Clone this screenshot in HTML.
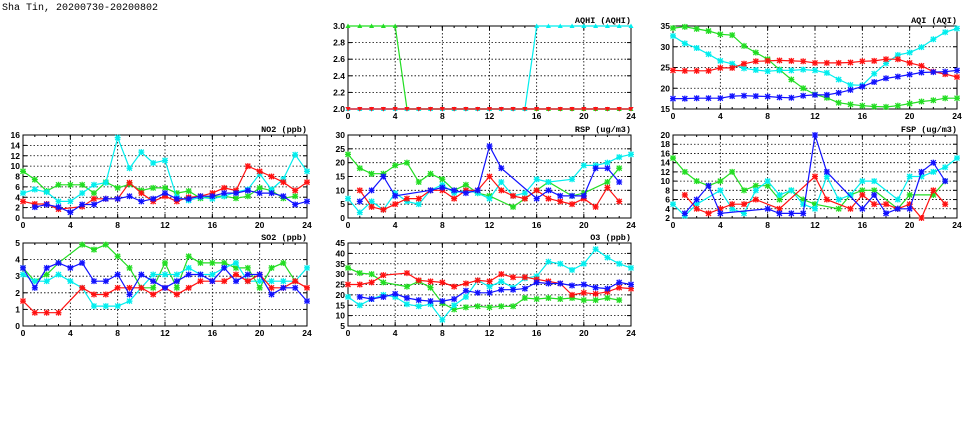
<!DOCTYPE html>
<html><head><meta charset="utf-8"><style>
body{margin:0;background:#fff;width:975px;height:447px;overflow:hidden}
svg{display:block}
text{font-family:"Liberation Sans",sans-serif}
</style></head><body>
<svg id="c" width="975" height="447" xmlns="http://www.w3.org/2000/svg">
<text x="2" y="10" font-size="10" style="font-family:'Liberation Mono',monospace">Sha Tin, 20200730-20200802</text>
</svg>
<script>
const N=null;
const hours=[0,1,2,3,4,5,6,7,8,9,10,11,12,13,14,15,16,17,18,19,20,21,22,23,24];
const xTicks=[0,4,8,12,16,20,24];
const colors=["#22dd22","#00eeee","#ff1111","#1111ff"];
// AQHI
const aqhiG=[3,3,3,3,3,2,2,2,2,2,2,2,2,2,2,2,2,2,2,2,2,2,2,2,2];
const aqhiC=[2,2,2,2,2,2,2,2,2,2,2,2,2,2,2,2,3,3,3,3,3,3,3,3,3];
const aqhiR=[2,2,2,2,2,2,2,2,2,2,2,2,2,2,2,2,2,2,2,2,2,2,2,2,2];
const aqhiB=[2,2,2,2,2,2,2,2,2,2,2,2,2,2,2,2,2,2,2,2,2,2,2,2,2];
const aqhiTicks=[2.0,2.2,2.4,2.6,2.8,3.0];
// AQI
const aqiG=[34.5,34.8,34.3,33.8,33,32.8,30.2,28.6,27,24.5,22.1,20,18.5,17.7,16.5,16.1,15.8,15.6,15.5,15.8,16.3,16.8,17.1,17.6,17.6];
const aqiC=[32.6,30.8,29.7,28.2,26.6,25.9,24.8,24.4,24.1,24.3,24.3,24.5,24.3,23.7,22.1,20.8,20.7,23.5,26,28,28.6,29.9,31.8,33.5,34.4];
const aqiR=[24.3,24.2,24.2,24.2,24.9,24.9,25.9,26.5,26.6,26.7,26.6,26.5,26.1,26.1,26.1,26.2,26.5,26.6,27,27,26.1,25.4,24,23.4,22.7];
const aqiB=[17.5,17.5,17.6,17.6,17.6,18.1,18.2,18.1,18,17.8,17.7,18.2,18.4,18.4,18.9,19.6,20.4,21.5,22.4,22.8,23.3,23.8,23.9,24,24.3];
const aqiTicks=[15,20,25,30,35];
// NO2
const no2G=[9,7.4,5.2,6.4,6.4,6.4,4.8,6.9,5.8,6.5,5.3,5.8,5.8,4.8,5.2,3.8,4.2,4.2,3.8,4.2,5.8,5.3,3.8,4.2,N];
const no2C=[4.8,5.5,5,3.2,3.2,4.8,6.4,6.8,15.5,9.6,12.7,10.6,11.1,4,3.4,4,3.7,4.2,5,5.5,8.5,5.5,7.5,12.2,9];
const no2R=[3.2,2.7,2.7,1.7,N,2.2,3.7,3.7,3.7,6.8,4.8,3.2,4.2,3.2,4,4.2,4.8,5.8,5.3,10,9,8,6.9,5.3,6.9];
const no2B=[N,2.1,2.6,2.1,1.1,2.6,2.6,3.7,3.7,4.2,3.2,3.7,4.8,3.7,3.7,4.2,4.2,4.8,4.8,5.3,4.8,4.8,4.2,2.6,3.2];
const no2Ticks=[0,2,4,6,8,10,12,14,16];
// RSP
const rspG=[23,18,16,16,19,20,13,16,14,10,12,9,8,N,4,7,10,13,N,8,9,N,13,18,N];
const rspC=[7,2,6,3,9,6,5,10,12,9,10,9,7,13,8,9,14,13,N,14,19,19,20,22,23];
const rspR=[N,10,4,3,5,7,7,10,10,7,10,10,15,10,8,7,10,7,6,5,7,4,11,6,N];
const rspB=[N,6,10,15,8,N,N,10,11,10,9,10,26,18,N,N,7,10,8,8,8,18,18,13,N];
const rspTicks=[0,5,10,15,20,25,30];
// FSP
const fspG=[15,12,10,9,10,12,8,9,9,6,8,6,5,N,4,7,8,8,N,4,7,N,7,10,N];
const fspC=[5,2.5,5,N,8,4,3,8,10,7,8,5,4,11,6,7,10,10,N,6,11,11,12,13,15];
const fspR=[N,7,4,3,4,5,5,6,N,4,N,N,11,6,N,4,7,5,5,4,5,2,8,5,N];
const fspB=[N,3,6,9,3,N,N,N,4,3,3,3,20,12,N,N,4,7,3,4,4,12,14,10,N];
const fspTicks=[2,4,6,8,10,12,14,16,18,20];
// SO2
const so2G=[3.5,2.7,3.1,3.8,N,4.9,4.6,4.9,4.2,3.5,2.3,2.3,3.8,2.3,4.2,3.8,3.8,3.8,3.5,3.5,2.3,3.5,3.8,2.7,N];
const so2C=[3.1,2.7,2.7,3.1,2.7,2.3,1.2,1.2,1.2,1.5,2.3,3.1,3.1,3.1,3.5,3.1,3.1,3.5,3.8,2.7,2.7,2.7,2.7,2.7,3.5];
const so2R=[1.5,0.8,0.8,0.8,N,2.3,1.9,1.9,2.3,2.3,2.3,1.9,2.3,1.9,2.3,2.7,2.7,2.7,3.1,2.7,3.1,2.3,2.3,2.7,2.3];
const so2B=[3.5,2.3,3.5,3.8,3.5,3.8,2.7,2.7,3.1,1.9,3.1,2.7,2.3,2.7,3.1,3.1,2.7,3.5,2.7,3.1,3.1,1.9,2.3,2.3,1.5];
const so2Ticks=[0,1,2,3,4,5];
// O3
const o3G=[33,30.5,30,26,N,24,26.5,23.5,16,13,14,14.5,14,14.5,14.5,18.5,18,18.5,18,18.5,17.5,17.5,18.5,17.5,N];
const o3C=[19,15,18,20,19,15.5,14.5,15.5,8,15,19,27,24,26.5,23.5,28,29,36,35,32,35,42,38,35,33];
const o3R=[25,25,26,29.5,N,30.5,27,26.5,26,24,25.5,27,26.5,30,28.5,28.5,27.5,26.5,25.5,20,21,20.5,21.5,23.5,23];
const o3B=[N,19,18,19,20.5,18.5,17.5,17,17,18,22,21,21,22.5,22.5,23,26,25.5,25.5,24.5,25,23.5,23,26,25];
const o3Ticks=[5,10,15,20,25,30,35,40,45];

const svg=document.getElementById('c');
const NS="http://www.w3.org/2000/svg";
function mk(tag,attrs,parent){const e=document.createElementNS(NS,tag);for(const k in attrs)e.setAttribute(k,attrs[k]);(parent||svg).appendChild(e);return e;}

function panel(name,title,x0,y0,x1,y1,ticks,series,cols,tri,tickFmt){
  const g=mk('g',{});
  
  
  const ymin=ticks[0],ymax=ticks[ticks.length-1];
  const sx=v=>x0+(v-0)/(24-0)*(x1-x0);
  const sy=v=>y1-(v-ymin)/(ymax-ymin)*(y1-y0);
  ticks.forEach(t=>{
    const y=sy(t);
    if(t!==ymin&&t!==ymax){const l=mk('line',{x1:x0,x2:x1,y1:y,y2:y,stroke:'#000','stroke-width':0.8,'stroke-dasharray':'1.5,2'},g);
      }
    mk('line',{x1:x0,x2:x0+4,y1:y,y2:y,stroke:'#000'},g);
    mk('line',{x1:x1-4,x2:x1,y1:y,y2:y,stroke:'#000'},g);
    const tx=mk('text',{x:x0-3,y:y+3,'font-size':8.5,'font-weight':'bold','text-anchor':'end'},g);
    tx.textContent=tickFmt?tickFmt(t):String(t);
    
  });
  xTicks.forEach(t=>{
    const x=sx(t);
    if(t!==0&&t!==24){const l=mk('line',{x1:x,x2:x,y1:y0,y2:y1,stroke:'#000','stroke-width':0.8,'stroke-dasharray':'1.5,2'},g);
      }
    mk('line',{x1:x,x2:x,y1:y1,y2:y1-4,stroke:'#000'},g);
    mk('line',{x1:x,x2:x,y1:y0,y2:y0+4,stroke:'#000'},g);
    const tx=mk('text',{x:x,y:y1+10,'font-size':8.5,'font-weight':'bold','text-anchor':'middle'},g);
    tx.textContent=String(t);
    
  });
  hours.forEach(h=>{const x=sx(h);mk('line',{x1:x,x2:x,y1:y1,y2:y1-2,stroke:'#000'},g);mk('line',{x1:x,x2:x,y1:y0,y2:y0+2,stroke:'#000'},g);});
  const r=mk('rect',{x:x0,y:y0,width:x1-x0,height:y1-y0,fill:'none',stroke:'#000','stroke-width':1},g);
  
  const tt=mk('text',{x:x1,y:y0-3,'font-size':8.5,'font-weight':'bold','text-anchor':'end',style:"font-family:'Liberation Mono',monospace"},g);
  tt.textContent=title;
  
  series.forEach((vals,si)=>{
    const col=colors[cols[si]];
    let d='';let pen=false;
    vals.forEach((v,i)=>{if(v===null)return;d+=(pen?'L':'M')+sx(hours[i]).toFixed(1)+','+sy(v).toFixed(1);pen=true;});
    const p=mk('path',{d:d,fill:'none',stroke:col,'stroke-width':1.2},g);
    
    vals.forEach((v,i)=>{
      if(v===null)return;
      const x=sx(hours[i]),y=sy(v);
      let m;
      if(tri){
        const up=(cols[si]<2);
        m=mk('path',{d:up?`M${x-2.5},${y+2}L${x+2.5},${y+2}L${x},${y-2.5}Z`:`M${x-2.5},${y-2}L${x+2.5},${y-2}L${x},${y+2.5}Z`,fill:col},g);
      }else{
        m=mk('path',{d:`M${x-2.5},${y-2.5}L${x+2.5},${y+2.5}M${x-2.5},${y+2.5}L${x+2.5},${y-2.5}M${x-3},${y}L${x+3},${y}M${x},${y-3}L${x},${y+3}`,stroke:col,'stroke-width':1.3,fill:'none'},g);
      }
      
      
    });
  });
}
const std=[0,1,2,3];
panel('aqhi','AQHI (AQHI)',348,26,631,109,aqhiTicks,[aqhiB,aqhiG,aqhiC,aqhiR],[3,0,1,2],true,t=>t.toFixed(1));
panel('aqi','AQI (AQI)',673,26,957,109,aqiTicks,[aqiG,aqiC,aqiR,aqiB],std,false);
panel('no2','NO2 (ppb)',23,135,307,218,no2Ticks,[no2G,no2C,no2R,no2B],std,false);
panel('rsp','RSP (ug/m3)',348,135,631,218,rspTicks,[rspG,rspC,rspR,rspB],std,false);
panel('fsp','FSP (ug/m3)',673,135,957,218,fspTicks,[fspG,fspC,fspR,fspB],std,false);
panel('so2','SO2 (ppb)',23,243,307,326,so2Ticks,[so2G,so2C,so2R,so2B],std,false);
panel('o3','O3 (ppb)',348,243,631,326,o3Ticks,[o3G,o3C,o3R,o3B],std,false);
</script>
</body></html>
